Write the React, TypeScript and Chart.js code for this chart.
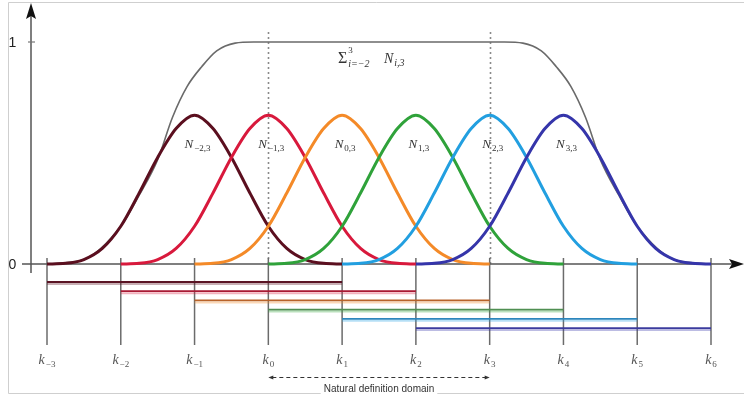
import React, { useEffect, useRef } from "react";
import { Chart, registerables } from "chart.js";

Chart.register(...registerables);

// Knot vector (uniform) and its labels
const knots = [-3, -2, -1, 0, 1, 2, 3, 4, 5, 6];
const knotSubscripts = ["\u22123", "\u22122", "\u22121", "0", "1", "2", "3", "4", "5", "6"];

// Cubic basis functions: index label, first knot of support, colour
const basisSubscripts = ["\u22122,3", "\u22121,3", "0,3", "1,3", "2,3", "3,3"];
const basisStarts = [-3, -2, -1, 0, 1, 2];
const basisColors = ["#5b0f1f", "#d8193c", "#f48a28", "#2fa23a", "#229fe0", "#3535aa"];
const barColors = ["#5a1424", "#a81a34", "#b8632a", "#4f8f52", "#2c86bd", "#3b3b9e"];

// Shape of one basis function sampled every quarter knot span
const profileSteps = [0, 0.25, 0.5, 0.75, 1, 1.25, 1.5, 1.75, 2, 2.25, 2.5, 2.75, 3, 3.25, 3.5, 3.75, 4];
const basisProfile = [0, 0.003, 0.02, 0.07, 0.17, 0.32, 0.48, 0.61, 0.67, 0.61, 0.48, 0.32, 0.17, 0.07, 0.02, 0.003, 0];

// Sum of all basis functions
const sumX = [-3, -2.5, -2, -1.75, -1.5, -1.3, -1.1, -0.9, -0.7, -0.45, -0.2, 1.5, 3.2, 3.45, 3.7, 3.9, 4.1, 4.3, 4.5, 4.75, 5, 5.5, 6];
const sumY = [0, 0.02, 0.17, 0.31, 0.47, 0.66, 0.8, 0.89, 0.96, 0.995, 1, 1, 1, 0.995, 0.96, 0.89, 0.8, 0.66, 0.47, 0.31, 0.17, 0.02, 0];

// Natural definition domain [k0, k3]
const domainStart = 0;
const domainEnd = 3;

const yTicks = [0, 1];

const W = 744;
const H = 397;
const X_MIN = -3.63705;
const X_MAX = 6.44725;
const Y_MIN = -0.5991;
const Y_MAX = 1.18919;

const SERIF = "'Liberation Serif', 'DejaVu Serif', serif";
const SANS = "'Liberation Sans', 'DejaVu Sans', sans-serif";

function drawIndexed(
  ctx: CanvasRenderingContext2D,
  main: string,
  sub: string,
  cx: number,
  baseline: number,
  mainFont: string,
  subFont: string,
  color: string,
  subDrop: number
) {
  ctx.font = mainFont;
  const wm = ctx.measureText(main).width;
  ctx.font = subFont;
  const ws = ctx.measureText(sub).width;
  const x0 = cx - (wm + ws + 1) / 2;
  ctx.fillStyle = color;
  ctx.textAlign = "left";
  ctx.textBaseline = "alphabetic";
  ctx.font = mainFont;
  ctx.fillText(main, x0, baseline);
  ctx.font = subFont;
  ctx.fillText(sub, x0 + wm + 1, baseline + subDrop);
}

const decorations = {
  id: "splineDecorations",
  beforeDatasetsDraw(chart: any) {
    const ctx: CanvasRenderingContext2D = chart.ctx;
    const xs = chart.scales.x;
    const ys = chart.scales.y;
    const y0 = ys.getPixelForValue(0);
    const y1 = ys.getPixelForValue(1);
    const axisX = 31;
    ctx.save();

    // frame
    ctx.strokeStyle = "#cfcfcf";
    ctx.lineWidth = 1;
    ctx.beginPath();
    ctx.moveTo(W, 2.5);
    ctx.lineTo(8.5, 2.5);
    ctx.lineTo(8.5, 393.5);
    ctx.lineTo(W, 393.5);
    ctx.stroke();

    // dotted lines bounding the natural domain
    ctx.strokeStyle = "#8a8a8a";
    ctx.lineWidth = 1.6;
    ctx.setLineDash([2, 3]);
    [domainStart, domainEnd].forEach((k) => {
      const px = Math.round(xs.getPixelForValue(k)) + 0.5;
      ctx.beginPath();
      ctx.moveTo(px, 32);
      ctx.lineTo(px, y0);
      ctx.stroke();
    });
    ctx.setLineDash([]);

    // knot markers
    ctx.strokeStyle = "#6b6b6b";
    ctx.lineWidth = 1.5;
    knots.forEach((k) => {
      const px = xs.getPixelForValue(k);
      ctx.beginPath();
      ctx.moveTo(px, y0 - 6);
      ctx.lineTo(px, 345);
      ctx.stroke();
    });

    // axes
    ctx.strokeStyle = "#555";
    ctx.lineWidth = 1.5;
    ctx.beginPath();
    ctx.moveTo(22, y0);
    ctx.lineTo(735, y0);
    ctx.moveTo(axisX, 273);
    ctx.lineTo(axisX, 14);
    ctx.stroke();
    ctx.fillStyle = "#111";
    ctx.beginPath();
    ctx.moveTo(axisX, 3);
    ctx.lineTo(axisX - 5, 19);
    ctx.lineTo(axisX, 16);
    ctx.lineTo(axisX + 5, 19);
    ctx.closePath();
    ctx.fill();
    ctx.beginPath();
    ctx.moveTo(744, y0);
    ctx.lineTo(729, y0 - 5);
    ctx.lineTo(732, y0);
    ctx.lineTo(729, y0 + 5);
    ctx.closePath();
    ctx.fill();

    // y ticks
    ctx.strokeStyle = "#777";
    ctx.lineWidth = 1.2;
    ctx.beginPath();
    ctx.moveTo(axisX - 3, y1);
    ctx.lineTo(axisX + 4, y1);
    ctx.stroke();
    ctx.fillStyle = "#222";
    ctx.font = `14px ${SANS}`;
    ctx.textAlign = "center";
    ctx.textBaseline = "middle";
    yTicks.forEach((t) => {
      ctx.fillText(String(t), 12.5, ys.getPixelForValue(t) + 1);
    });
    ctx.restore();
  },
  afterDatasetsDraw(chart: any) {
    const ctx: CanvasRenderingContext2D = chart.ctx;
    const xs = chart.scales.x;
    ctx.save();

    // basis function names near each peak
    basisStarts.forEach((s, i) => {
      const cx = xs.getPixelForValue(s + 2) + 3;
      drawIndexed(ctx, "N", basisSubscripts[i], cx, 148, `italic 13px ${SERIF}`, `9px ${SERIF}`, "#333", 3);
    });

    // sum label: Σ with limits, then N_{i,3}
    const sx = 338;
    ctx.fillStyle = "#333";
    ctx.textAlign = "left";
    ctx.textBaseline = "alphabetic";
    ctx.font = `16px ${SERIF}`;
    ctx.fillText("\u03A3", sx, 63);
    const sigmaW = ctx.measureText("\u03A3").width;
    ctx.font = `9px ${SERIF}`;
    ctx.fillText("3", sx + sigmaW + 1, 53);
    ctx.font = `italic 10px ${SERIF}`;
    const lower = "i=\u22122";
    ctx.fillText(lower, sx + sigmaW + 1, 67);
    const lowerW = ctx.measureText(lower).width;
    const nx = Math.max(sx + sigmaW + 1 + lowerW + 3, 384);
    ctx.font = `italic 14px ${SERIF}`;
    ctx.fillText("N", nx, 63);
    const nW = ctx.measureText("N").width;
    ctx.font = `italic 10px ${SERIF}`;
    ctx.fillText("i,3", nx + nW + 1, 66);

    // knot labels
    knots.forEach((k, i) => {
      const cx = xs.getPixelForValue(k);
      drawIndexed(ctx, "k", knotSubscripts[i], cx, 364, `italic 14px ${SERIF}`, `9px ${SERIF}`, "#555", 3);
    });

    // natural definition domain
    const a = xs.getPixelForValue(domainStart);
    const b = xs.getPixelForValue(domainEnd);
    const dy = 377.5;
    ctx.strokeStyle = "#333";
    ctx.lineWidth = 1;
    ctx.setLineDash([4, 3]);
    ctx.beginPath();
    ctx.moveTo(a + 4, dy);
    ctx.lineTo(b - 4, dy);
    ctx.stroke();
    ctx.setLineDash([]);
    ctx.fillStyle = "#333";
    ctx.beginPath();
    ctx.moveTo(a, dy);
    ctx.lineTo(a + 5, dy - 2);
    ctx.lineTo(a + 5, dy + 2);
    ctx.closePath();
    ctx.fill();
    ctx.beginPath();
    ctx.moveTo(b, dy);
    ctx.lineTo(b - 5, dy - 2);
    ctx.lineTo(b - 5, dy + 2);
    ctx.closePath();
    ctx.fill();
    ctx.font = `10px ${SANS}`;
    const label = "Natural definition domain";
    const tw = ctx.measureText(label).width;
    const mid = (a + b) / 2;
    ctx.fillStyle = "#fff";
    ctx.fillRect(mid - tw / 2 - 3, 383, tw + 6, 12);
    ctx.fillStyle = "#333";
    ctx.textAlign = "center";
    ctx.textBaseline = "middle";
    ctx.fillText(label, mid, 389);
    ctx.restore();
  },
};

function buildDatasets() {
  const sets: any[] = [];
  sets.push({
    label: "sum",
    data: sumX.map((x, i) => ({ x, y: sumY[i] })),
    borderColor: "#6a6a6a",
    borderWidth: 1.6,
    cubicInterpolationMode: "monotone",
    order: 50,
  });
  basisStarts.forEach((s, i) => {
    sets.push({
      label: "N" + basisSubscripts[i],
      data: profileSteps.map((t, j) => ({ x: s + t, y: basisProfile[j] })),
      borderColor: basisColors[i],
      borderWidth: 3,
      cubicInterpolationMode: "monotone",
      order: 30 - i,
    });
  });
  // support intervals of each basis function, stacked below the axis
  basisStarts.forEach((s, i) => {
    const level = -0.081 - i * 0.0415;
    sets.push({
      label: "tint" + i,
      data: [
        { x: s, y: level - 0.009 },
        { x: s + 4, y: level - 0.009 },
      ],
      borderColor: basisColors[i] + "55",
      borderWidth: 2,
      order: 45,
    });
    sets.push({
      label: "support" + i,
      data: [
        { x: s, y: level },
        { x: s + 4, y: level },
      ],
      borderColor: barColors[i],
      borderWidth: 1.8,
      order: 40,
    });
  });
  return sets;
}

export default function App() {
  const ref = useRef<HTMLCanvasElement>(null);
  useEffect(() => {
    if (!ref.current) return;
    const chart = new Chart(ref.current, {
      type: "line",
      data: { datasets: buildDatasets() },
      options: {
        animation: false,
        responsive: false,
        maintainAspectRatio: false,
        layout: { padding: 0 },
        elements: { point: { radius: 0 }, line: { fill: false } },
        plugins: { legend: { display: false }, tooltip: { enabled: false } },
        scales: {
          x: { type: "linear", min: X_MIN, max: X_MAX, display: false },
          y: { type: "linear", min: Y_MIN, max: Y_MAX, display: false },
        },
      },
      plugins: [decorations],
    } as any);
    return () => chart.destroy();
  }, []);
  return (
    <div style={{ position: "fixed", left: 0, top: 0, width: W, height: H, background: "#fff" }}>
      <canvas ref={ref} width={W} height={H} style={{ display: "block", width: W, height: H }} />
    </div>
  );
}
